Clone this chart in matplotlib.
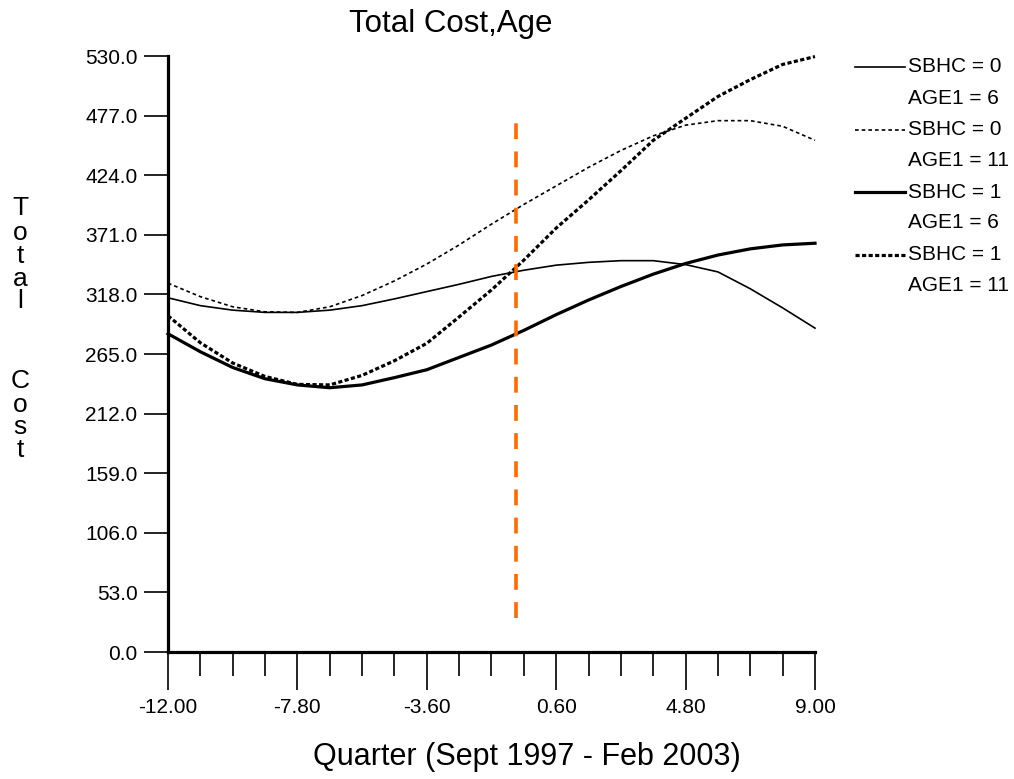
import numpy as np
import matplotlib.pyplot as plt
from matplotlib.lines import Line2D
from matplotlib.ticker import FixedLocator, FormatStrFormatter

plt.rcParams['font.family'] = ['Liberation Sans', 'DejaVu Sans']

# quarter positions (tick grid, step 1.05)
quarters = [-12.00, -10.95, -9.90, -8.85, -7.80, -6.75, -5.70, -4.65, -3.60, -2.55,
            -1.50, -0.45, 0.60, 1.65, 2.70, 3.75, 4.80, 5.85, 6.90, 7.95, 9.00]

cost_sbhc0_age6 = [315, 308, 304, 302, 302, 304, 308, 314, 320.5, 327, 334,
                   339.5, 344, 346.5, 348, 348, 344.5, 338, 323, 306, 288]
cost_sbhc0_age11 = [328, 316, 307, 302.5, 302, 307, 317, 330, 345, 362, 380.5,
                    398, 414.5, 431, 446, 459, 468.5, 472.5, 472.5, 467.5, 455]
cost_sbhc1_age6 = [283, 267, 253, 243, 237.5, 235, 237.5, 244, 251, 262, 273,
                   286, 300, 313, 325, 336, 345.5, 353, 358.5, 362, 363.5]
cost_sbhc1_age11 = [299, 275, 257, 245, 238, 237.5, 246, 259, 274.5, 298, 322,
                    348.5, 377, 402, 428, 455, 474.6, 494, 509, 522.5, 529.5]

legend_top = ['SBHC = 0', 'SBHC = 0', 'SBHC = 1', 'SBHC = 1']
legend_bottom = ['AGE1 = 6', 'AGE1 = 11', 'AGE1 = 6', 'AGE1 = 11']

marker_x = -0.7
marker_y = [30, 470]

x_major = [-12.00, -7.80, -3.60, 0.60, 4.80, 9.00]
y_ticks = [0, 53, 106, 159, 212, 265, 318, 371, 424, 477, 530]

W, H = 1014, 779
fig = plt.figure(figsize=(W / 100, H / 100), dpi=100)
ax = fig.add_axes([168 / W, (H - 652) / H, (815 - 168) / W, (652 - 56) / H])

styles = [
    dict(color='black', lw=1.2, ls='-'),
    dict(color='black', lw=1.2, ls=(0, (2.2, 1.8))),
    dict(color='black', lw=2.3, ls='-'),
    dict(color='black', lw=2.3, ls=(0, (1.3, 0.75))),
]
series = [cost_sbhc0_age6, cost_sbhc0_age11, cost_sbhc1_age6, cost_sbhc1_age11]
for ys, st in zip(series, styles):
    ax.plot(quarters, ys, clip_on=False, **st)

ax.plot([marker_x, marker_x], marker_y, color='#ff6a00', lw=2.6,
        ls=(0, (4.4, 3.4)))

ax.set_xlim(-12, 9)
ax.set_ylim(0, 530)
ax.xaxis.set_major_locator(FixedLocator(x_major))
ax.xaxis.set_minor_locator(FixedLocator(quarters))
ax.xaxis.set_major_formatter(FormatStrFormatter('%.2f'))
ax.yaxis.set_major_locator(FixedLocator(y_ticks))
ax.yaxis.set_major_formatter(FormatStrFormatter('%.1f'))
ax.tick_params(axis='x', which='major', direction='out', length=27, width=1.2,
               labelsize=15, pad=6)
ax.tick_params(axis='x', which='minor', direction='out', length=17, width=1.2)
ax.tick_params(axis='y', direction='out', length=17, width=1.2, labelsize=15, pad=5)
for s in ['top', 'right']:
    ax.spines[s].set_visible(False)
for s in ['left', 'bottom']:
    ax.spines[s].set_linewidth(2.3)

# titles
fig.text(451 / W, 1 - 24 / H, 'Total Cost,Age', fontsize=22.5, ha='center', va='center')
fig.text(527 / W, 1 - 757 / H, 'Quarter (Sept 1997 - Feb 2003)', fontsize=22,
         ha='center', va='center')
ylab = ['T', 'o', 't', 'a', 'l', 'C', 'o', 's', 't']
ylab_y = [208, 233, 256, 279, 301, 381, 405, 427, 450]
for ch, yy in zip(ylab, ylab_y):
    fig.text(20 / W, 1 - yy / H, ch, fontsize=19, ha='center', va='center')

# legend
row = 0
for top, bot, st in zip(legend_top, legend_bottom, styles):
    y0 = 67 + row * 62.5
    fig.add_artist(Line2D([855 / W, 905 / W], [1 - y0 / H, 1 - y0 / H], **st))
    fig.text(908 / W, 1 - y0 / H, top, fontsize=15, ha='left', va='center')
    fig.text(908 / W, 1 - (y0 + 31) / H, bot, fontsize=15, ha='left', va='center')
    row += 1

fig.savefig('out.png', dpi=100)
